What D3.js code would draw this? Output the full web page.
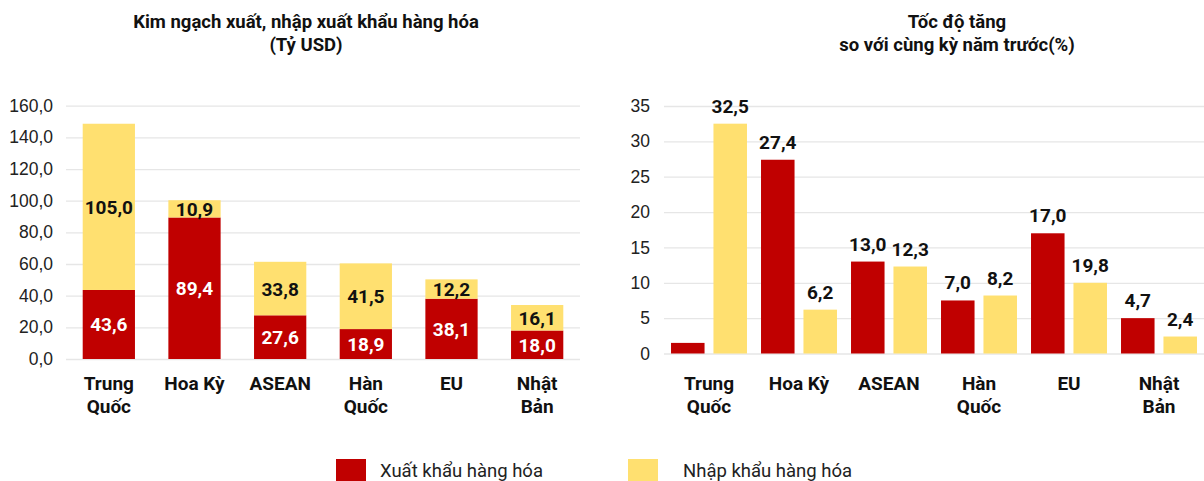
<!DOCTYPE html>
<html>
<head>
<meta charset="utf-8">
<script src="https://cdn.jsdelivr.net/npm/d3@7"></script>
<style>
  body { margin: 0; background: #fff; font-family: Roboto, "Noto Sans", sans-serif; }
  .grid line { stroke: #e6e6e6; stroke-width: 1.3; }
  .grid .domain { display: none; }
  .ytick text { font-size: 17.5px; fill: #222; }
  .ytick .domain, .ytick line { display: none; }
</style>
</head>
<body>
<svg id="svg" width="1204" height="481"></svg>
<script>
const categories = ["Trung Quốc", "Hoa Kỳ", "ASEAN", "Hàn Quốc", "EU", "Nhật Bản"];
const categoryLines = [["Trung", "Quốc"], ["Hoa Kỳ"], ["ASEAN"], ["Hàn", "Quốc"], ["EU"], ["Nhật", "Bản"]];
const series = ["Xuất khẩu hàng hóa", "Nhập khẩu hàng hóa"];
const colors = ["#C00000", "#FFE070"];

// kim ngach (ty USD)
const exportValue = [43.6, 89.4, 27.6, 18.9, 38.1, 18.0];
const importValue = [105.0, 10.9, 33.8, 41.5, 12.2, 16.1];
const valueTicks = [0, 20, 40, 60, 80, 100, 120, 140, 160];

// toc do tang (%) - bar heights as drawn, labels as printed
const exportGrowth = [1.5, 27.4, 13.0, 7.5, 17.0, 5.0];
const importGrowth = [32.5, 6.2, 12.3, 8.2, 10.0, 2.4];
const exportGrowthLabels = ["", "27,4", "13,0", "7,0", "17,0", "4,7"];
const importGrowthLabels = ["32,5", "6,2", "12,3", "8,2", "19,8", "2,4"];
const growthTicks = [0, 5, 10, 15, 20, 25, 30, 35];

const svg = d3.select("#svg");
const fmt1 = v => d3.format(".1f")(v).replace(".", ",");

// titles
function title(cx, lines) {
  const t = svg.append("text").attr("x", cx).attr("y", 28).attr("text-anchor", "middle")
    .style("font-size", "18.5px").style("font-weight", "bold").style("fill", "#111");
  lines.forEach((s, i) => t.append("tspan").attr("x", cx).attr("dy", i ? 23 : 0).text(s));
}
title(306, ["Kim ngạch xuất, nhập xuất khẩu hàng hóa", "(Tỷ USD)"]);
title(957, ["Tốc độ tăng", "so với cùng kỳ năm trước(%)"]);

function categoryAxis(g, x, off) {
  const lab = g.selectAll(".cat").data(categories).join("text")
    .attr("text-anchor", "middle")
    .attr("transform", d => "translate(" + (x(d) + off) + ",0)")
    .style("font-size", "19px").style("font-weight", "bold").style("fill", "#111");
  lab.each(function (d, i) {
    categoryLines[i].forEach((s, j) => d3.select(this).append("tspan").attr("x", 0).attr("y", 390 + j * 23).text(s));
  });
}

// ---- left: stacked
const x1 = d3.scaleBand().domain(categories).range([66, 580]).paddingInner(0.39).paddingOuter(0.195);
const y1 = d3.scaleLinear().domain([0, 160]).range([359, 105.7]);

const left = svg.append("g");
left.append("g").attr("class", "grid").attr("transform", "translate(66,0)")
  .call(d3.axisLeft(y1).tickValues(valueTicks).tickSize(-514).tickFormat(""));
left.append("g").attr("class", "ytick").attr("transform", "translate(56,0)")
  .call(d3.axisLeft(y1).tickValues(valueTicks).tickSize(0).tickPadding(3).tickFormat(fmt1));

const stackRows = categories.map((c, i) => ({ cat: c, exp: exportValue[i], imp: importValue[i] }));
const stacked = d3.stack().keys(["exp", "imp"])(stackRows);
stacked.forEach((layer, k) => {
  left.append("g").selectAll("rect").data(layer).join("rect")
    .attr("x", d => x1(d.data.cat)).attr("width", x1.bandwidth())
    .attr("y", d => y1(d[1])).attr("height", d => y1(d[0]) - y1(d[1]))
    .attr("fill", colors[k]);
  left.append("g").selectAll("text").data(layer).join("text")
    .attr("x", d => x1(d.data.cat) + x1.bandwidth() / 2)
    .attr("y", d => (y1(d[0]) + y1(d[1])) / 2 + 7)
    .attr("text-anchor", "middle")
    .style("font-size", "19px").style("font-weight", "bold")
    .style("fill", k === 0 ? "#fff" : "#111")
    .text(d => fmt1(d[1] - d[0]));
});
categoryAxis(left, x1, x1.bandwidth() / 2);

// ---- right: grouped
const x2 = d3.scaleBand().domain(categories).range([664, 1204]).paddingInner(0.156).paddingOuter(0.078);
const xs = d3.scaleBand().domain([0, 1]).range([0, x2.bandwidth()]).paddingInner(0.21);
const y2 = d3.scaleLinear().domain([0, 35]).range([353.5, 106]);

const right = svg.append("g");
right.append("g").attr("class", "grid").attr("transform", "translate(664,0)")
  .call(d3.axisLeft(y2).tickValues(growthTicks).tickSize(-540).tickFormat(""));
right.append("g").attr("class", "ytick").attr("transform", "translate(653,0)")
  .call(d3.axisLeft(y2).tickValues(growthTicks).tickSize(0).tickPadding(3));

const groupRows = categories.map((c, i) => [
  { cat: c, k: 0, v: exportGrowth[i], label: exportGrowthLabels[i] },
  { cat: c, k: 1, v: importGrowth[i], label: importGrowthLabels[i] }
]).flat();
right.append("g").selectAll("rect").data(groupRows).join("rect")
  .attr("x", d => x2(d.cat) + xs(d.k)).attr("width", xs.bandwidth())
  .attr("y", d => y2(d.v)).attr("height", d => y2(0) - y2(d.v))
  .attr("fill", d => colors[d.k]);
right.append("g").selectAll("text").data(groupRows).join("text")
  .attr("x", d => x2(d.cat) + xs(d.k) + xs.bandwidth() / 2)
  .attr("y", d => y2(d.v) - 11)
  .attr("text-anchor", "middle")
  .style("font-size", "19px").style("font-weight", "bold").style("fill", "#111")
  .text(d => d.label);
categoryAxis(right, x2, x2.bandwidth() / 2);

// ---- legend
const legend = svg.append("g").selectAll("g").data(series).join("g")
  .attr("transform", (d, i) => "translate(" + (i ? 628 : 336) + ",459)");
legend.append("rect").attr("width", 30).attr("height", 23).attr("fill", (d, i) => colors[i]);
legend.append("text").attr("x", (d, i) => i ? 55 : 44).attr("y", 18)
  .style("font-size", "18.5px").style("fill", "#222").text(d => d);
</script>
</body>
</html>
